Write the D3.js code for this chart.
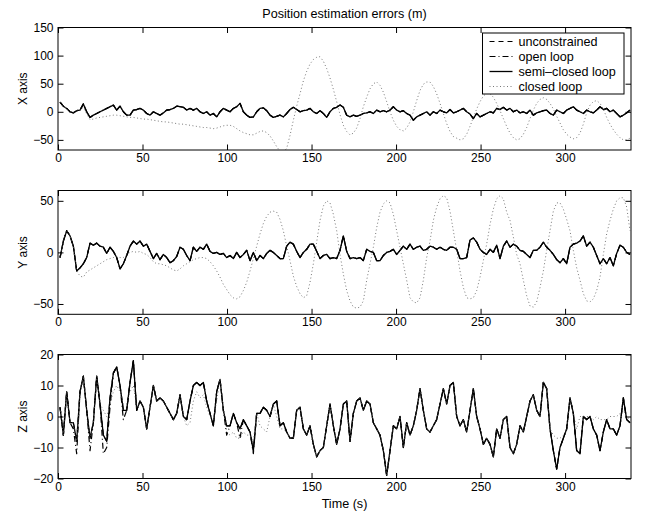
<!DOCTYPE html>
<html>
<head>
<meta charset="utf-8">
<script src="https://cdn.jsdelivr.net/npm/d3@7"></script>
<style>
  body { margin: 0; background: #fff; }
  svg { display: block; font-family: "Liberation Sans", Arial, sans-serif; }
  .axis text { font-size: 12px; fill: #000; }
  .axis line { stroke: #000; }
  .label { font-size: 12px; fill: #000; }
  .title, .legend text { font-size: 12.6px; fill: #000; }
</style>
</head>
<body>
<div id="chart"></div>
<script>
// samples every ~1.97 s starting at t = 1.2 s
var sampleStart = 1.2, sampleStep = 1.972;

var seriesNames = ['unconstrained', 'open loop', 'semi\u2013closed loop', 'closed loop'];
var timeTicks = [0, 50, 100, 150, 200, 250, 300];
var timeDomain = [0, 339];

var xTicks = [-50, 0, 50, 100, 150], xDomain = [-68, 150];
var yTicks = [-50, 0, 50],           yDomain = [-60, 60];
var zTicks = [-20, -10, 0, 10, 20],  zDomain = [-20, 20];

var semiX = [17,10,6,0,-2,2,3,14,0,-10, -6,-3,0,3,6,9,12,3,10,0, -6,-6,3,4,6,3,-3,-6,0,-3,
  -6,-2,3,4,6,10,9,8,3,6, 3,6,0,-3,0,-6,-3,-9,0,6, 3,0,6,9,15,0,-6,-10,-9,0,
  6,7,2,-6,-10,-8,-6,-9,-3,4, 8,4,0,2,3,6,0,-3,2,-3, -10,0,6,8,12,8,-6,-9,-6,-8,
  -6,-3,-2,0,-3,3,0,2,0,3, 9,3,0,2,-3,-6,-15,-9,-6,-3, 0,-6,0,-3,3,0,-2,4,-2,0,
  3,6,0,-4,-12,-3,-9,-6,-3,0, -2,6,4,8,3,6,0,3,-2,0, -3,3,-6,-2,0,2,3,-3,-6,3,
  0,-3,3,6,9,3,0,-3,3,0, -2,3,9,4,6,0,3,-3,-9,-6, -2,3];
var closedX = [17,10,6,0,-2,2,3,8,-4,-14, -13,-11,-10,-9,-8,-7,-6,-6,-7,-8, -9,-10,-10,-11,-12,-13,-13,-14,-15,-16,
  -17,-18,-18,-19,-20,-21,-22,-22,-23,-24, -25,-26,-27,-28,-28,-29,-30,-29,-27,-25, -24,-24,-26,-30,-34,-37,-39,-41,-41,-38,
  -35,-34,-37,-43,-52,-62,-70,-72,-65,-42, -15,10,32,55,72,85,93,97,98,90, 77,60,40,18,-5,-24,-35,-41,-38,-29,
  -12,9,26,41,50,53,47,35,18,0, -15,-26,-32,-34,-29,-18,0,20,38,49, 53,53,45,32,15,-3,-21,-35,-44,-47,
  -50,-48,-40,-26,-10,5,18,28,33,32, 26,15,2,-12,-26,-38,-46,-50,-48,-40, -28,-12,3,15,22,25,22,15,5,-8,
  -20,-32,-40,-45,-48,-46,-38,-22,-2,12, 18,20,15,5,-10,-22,-32,-40,-46,-50, -50,-47];

var semiY = [-5,11,21,16,6,-18,-15,-11,-5,9, 7,9,6,5,-1,5,1,-5,-16,-11, -3,6,11,8,11,6,8,1,-6,-1,
  -7,-2,-5,-10,-8,-4,5,3,-3,-8, 5,1,5,3,8,1,-1,0,-2,-1, -5,-3,-6,0,-5,-2,2,-8,0,-8,
  -3,-6,-1,2,0,-3,-6,-6,6,10, 8,1,-5,0,3,8,8,1,-6,-3, -2,-6,-5,-6,2,16,1,-6,-5,-6,
  -5,-8,3,1,0,-8,-8,-3,0,1, 3,-2,2,6,3,8,3,5,6,2, 3,6,5,3,5,3,2,5,5,3,
  -6,-6,-5,12,14,10,3,0,-2,3, 0,7,-6,6,11,5,8,6,2,1, -2,-5,2,2,5,10,5,2,-2,-7,
  -10,-6,-11,5,8,9,11,16,6,10, 5,-3,-11,-6,-11,-5,-13,-1,7,5, 0,-2];
var closedY = [-5,11,21,16,6,-18,-23,-24,-19,-17, -15,-13,-11,-9,-7,-6,-5,-4,-5,-5, -2,0,1,0,1,-1,-2,-5,-9,-11,
  -11,-12,-13,-15,-17,-18,-16,-13,-11,-9, -7,-6,-5,-5,-6,-9,-13,-18,-24,-31, -36,-41,-44,-45,-43,-37,-29,-18,-6,6,
  18,28,35,39,40,39,32,21,6,-8, -23,-33,-40,-44,-42,-29,-11,10,31,45, 50,48,37,21,-2,-21,-37,-47,-53,-54,
  -53,-47,-27,-11,5,24,39,47,50,48, 37,21,5,-11,-27,-44,-48,-49,-44,-27, -5,11,31,44,52,55,53,40,21,2,
  -18,-34,-44,-45,-44,-37,-24,-8,8,27, 42,52,55,52,39,31,15,-2,-11,-27, -42,-52,-53,-48,-34,-18,2,21,40,48,
  48,42,32,21,2,-15,-27,-40,-47,-48, -45,-37,-24,-2,18,31,42,50,53,53, 44,21];

var semiZ = [3,-6,8,-2,-2,-8,8,13,2,-7, -2,13,4,-6,-8,6,14,16,10,2, 2,11,18,2,5,3,-4,3,10,5,
  6,5,3,1,-1,1,7,0,-1,5, 10,11,10,11,5,1,-3,8,12,2, -3,-3,1,-2,-4,-1,-3,-5,-11,1,
  1,3,2,0,4,5,-3,-2,-5,-7, -7,2,3,-4,-6,-3,-9,-13,-11,-10, -3,4,-3,-9,-4,4,5,-8,1,5,
  6,2,5,4,-2,-4,-6,-11,-19,-11, -3,-4,0,-10,-2,-6,-3,2,9,2, -4,-5,-3,-1,4,9,4,10,11,0,
  -3,-1,-5,2,9,0,-4,-9,-7,-9, -13,-4,-7,-1,0,-10,-12,-9,-3,-5, 0,5,7,2,0,11,9,-4,-11,-17,
  -10,-7,-4,6,1,-11,-12,0,-1,0, -4,-6,-11,-5,-1,-4,-4,-6,-3,6, -1,-2];
var openLoopZ = [3,-6,8,-2,-4,-12,8,13,2,-11, -2,13,4,-12,-10,3,14,16,10,-1, 2,11,18,2,5,3,-4,3,10,5,
  6,5,3,1,-1,1,7,0,-1,5, 10,11,10,11,5,1,-3,8,12,2, -6,-3,1,-2,-7,-1,-3,-5,-12,1,
  1,3,2,0,4,5,-3,-2,-5,-7, -7,2,3,-4,-6,-3,-9,-13,-11,-10, -3,4,-3,-9,-4,4,5,-8,1,5,
  6,2,5,4,-2,-4,-6,-11,-19,-11, -3,-4,0,-10,-2,-6,-3,2,9,2, -4,-5,-3,-1,4,9,4,10,11,0,
  -3,-1,-5,2,9,0,-4,-9,-7,-9, -13,-4,-7,-1,0,-10,-12,-9,-3,-5, 0,5,7,2,0,11,9,-4,-11,-17,
  -10,-7,-4,6,1,-11,-12,0,-1,0, -4,-6,-11,-5,-1,-4,-4,-6,-3,6, -1,-2];
var closedZ = [3,-6,8,-2,-2,-8,8,13,2,-7, -2,13,4,2,0,4,8,10,8,4, 4,8,10,3,5,3,-4,3,10,5,
  6,5,3,1,-1,1,7,0,-3,-2, 5,8,6,7,3,0,-1,5,12,2, -5,-6,-5,-7,-7,-5,-6,-6,-8,1,
  -3,-4,-5,0,4,0,-4,-4,-5,-7, -7,2,3,-4,-6,-3,-9,-13,-11,-10, -3,4,-3,-9,-4,4,5,-8,1,5,
  6,2,5,4,-2,-4,-6,-11,-19,-11, -3,-4,0,-10,-2,-6,-3,2,9,2, -4,-5,-3,-1,4,9,4,10,11,0,
  -3,-1,-5,2,9,0,-4,-9,-7,-9, -13,-4,-7,-1,0,-10,-12,-9,-3,-5, 0,5,7,2,0,11,9,-4,-6,-7,
  -7,-6,-5,6,1,-4,0,0,0,0, -1,0,-1,-1,-1,0,0,0,1,2, 0,-1];

// in the X and Y plots the unconstrained and open loop traces sit under the semi-closed one
var unconstrainedX = semiX, openLoopX = semiX;
var unconstrainedY = semiY, openLoopY = semiY;
var unconstrainedZ = semiZ;

var width = 645,
    height = 515,
    left = 58,
    right = 631,
    tick = 5.5;

var styles = [
  {dash: '5,4',     width: 1.2, color: '#000'},
  {dash: '6,3,1,3', width: 1.2, color: '#000'},
  {dash: null,      width: 1.3, color: '#000'},
  {dash: '1,2.5',   width: 0.8, color: '#555'}
];

var panels = [
  {label: 'X axis', top: 27.5,  bottom: 150,   domain: xDomain, ticks: xTicks,
   series: [unconstrainedX, openLoopX, semiX, closedX]},
  {label: 'Y axis', top: 190.5, bottom: 314.3, domain: yDomain, ticks: yTicks,
   series: [unconstrainedY, openLoopY, semiY, closedY]},
  {label: 'Z axis', top: 354.5, bottom: 478.5, domain: zDomain, ticks: zTicks,
   series: [unconstrainedZ, openLoopZ, semiZ, closedZ]}
];

var svg = d3.select('#chart').append('svg')
    .attr('width', width)
    .attr('height', height);

var xScale = d3.scaleLinear().domain(timeDomain).range([left, right]);

function sampleTime(i) { return sampleStart + i * sampleStep; }

panels.forEach(function(p, pi) {
  var yScale = d3.scaleLinear().domain(p.domain).range([p.bottom, p.top]);
  var g = svg.append('g');

  g.append('clipPath').attr('id', 'clip' + pi)
    .append('rect')
      .attr('x', left).attr('y', p.top)
      .attr('width', right - left).attr('height', p.bottom - p.top);

  var line = d3.line()
      .x(function(d, i) { return xScale(sampleTime(i)); })
      .y(function(d) { return yScale(d); });

  var lines = g.append('g').attr('clip-path', 'url(#clip' + pi + ')');
  p.series.forEach(function(values, si) {
    var s = styles[si];
    lines.append('path')
      .attr('d', line(values))
      .attr('fill', 'none')
      .attr('stroke', s.color)
      .attr('stroke-width', s.width)
      .attr('stroke-dasharray', s.dash)
      .attr('stroke-linejoin', 'round');
  });

  g.append('g').attr('class', 'axis')
    .attr('transform', 'translate(' + left + ',0)')
    .call(d3.axisLeft(yScale).tickValues(p.ticks).tickSize(-tick).tickPadding(4.5).tickFormat(d3.format('d')))
    .call(function(a) { a.select('.domain').remove(); });
  g.append('g').attr('class', 'axis')
    .attr('transform', 'translate(' + right + ',0)')
    .call(d3.axisRight(yScale).tickValues(p.ticks).tickSize(-tick).tickFormat(''))
    .call(function(a) { a.select('.domain').remove(); });
  g.append('g').attr('class', 'axis')
    .attr('transform', 'translate(0,' + p.bottom + ')')
    .call(d3.axisBottom(xScale).tickValues(timeTicks).tickSize(-tick).tickPadding(3.5).tickFormat(d3.format('d')))
    .call(function(a) { a.select('.domain').remove(); });
  g.append('g').attr('class', 'axis')
    .attr('transform', 'translate(0,' + p.top + ')')
    .call(d3.axisTop(xScale).tickValues(timeTicks).tickSize(-tick).tickFormat(''))
    .call(function(a) { a.select('.domain').remove(); });

  g.append('rect')
    .attr('x', left).attr('y', p.top)
    .attr('width', right - left).attr('height', p.bottom - p.top)
    .attr('fill', 'none').attr('stroke', '#000').attr('stroke-width', 1);

  g.append('text').attr('class', 'label')
    .attr('transform', 'translate(26.5,' + (p.top + p.bottom) / 2 + ') rotate(-90)')
    .attr('text-anchor', 'middle')
    .text(p.label);
});

svg.append('text').attr('class', 'title')
  .attr('x', (left + right) / 2).attr('y', 17.5)
  .attr('text-anchor', 'middle')
  .text('Position estimation errors (m)');

svg.append('text').attr('class', 'title')
  .attr('x', (left + right) / 2).attr('y', 508)
  .attr('text-anchor', 'middle')
  .text('Time (s)');

// legend
var legend = svg.append('g').attr('class', 'legend').attr('transform', 'translate(482.5,33)');
legend.append('rect')
  .attr('width', 141.5).attr('height', 61)
  .attr('fill', '#fff').attr('stroke', '#000').attr('stroke-width', 1);

var rows = legend.selectAll('.row')
  .data(seriesNames).enter()
  .append('g')
    .attr('class', 'row')
    .attr('transform', function(d, i) { return 'translate(0,' + (8.5 + i * 15) + ')'; });

rows.append('line')
  .attr('x1', 7).attr('x2', 30)
  .attr('stroke', function(d, i) { return styles[i].color; })
  .attr('stroke-width', function(d, i) { return styles[i].width; })
  .attr('stroke-dasharray', function(d, i) { return styles[i].dash; });

rows.append('text')
  .attr('x', 36).attr('dy', '0.35em')
  .text(function(d) { return d; });
</script>
</body>
</html>
